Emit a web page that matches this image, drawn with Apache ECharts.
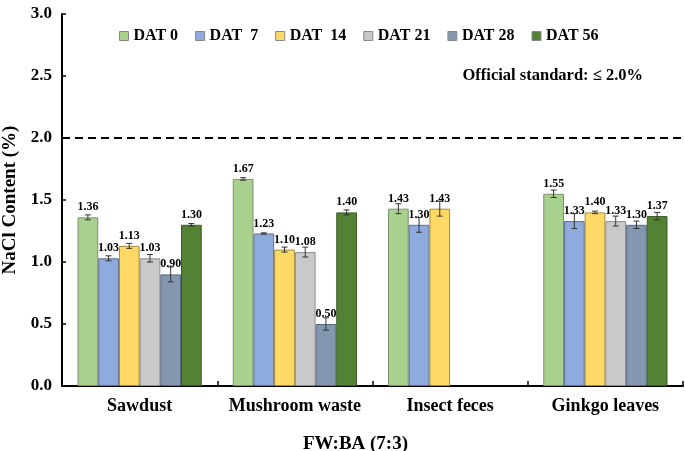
<!DOCTYPE html>
<html>
<head>
<meta charset="utf-8">
<script src="https://cdn.jsdelivr.net/npm/echarts@6/dist/echarts.min.js"></script>
<style>
  html, body { margin: 0; padding: 0; background: #fff; }
  #chart { width: 685px; height: 451px; }
</style>
</head>
<body>
<div id="chart"></div>
<script>
const categories = ['Sawdust', 'Mushroom waste', 'Insect feces', 'Ginkgo leaves']
const seriesNames = ['DAT 0', 'DAT  7', 'DAT  14', 'DAT 21', 'DAT 28', 'DAT 56']

// mean values per DAT (one entry per category, null = not measured)
const dat0 = [1.36, 1.67, 1.43, 1.55]
const dat7 = [1.03, 1.23, 1.30, 1.33]
const dat14 = [1.13, 1.10, 1.43, 1.40]
const dat21 = [1.03, 1.08, null, 1.33]
const dat28 = [0.90, 0.50, null, 1.30]
const dat56 = [1.30, 1.40, null, 1.37]

// standard deviations
const err0 = [0.02, 0.01, 0.04, 0.03]
const err7 = [0.02, 0.005, 0.06, 0.06]
const err14 = [0.02, 0.02, 0.06, 0.01]
const err21 = [0.03, 0.04, null, 0.04]
const err28 = [0.06, 0.05, null, 0.03]
const err56 = [0.01, 0.02, null, 0.03]

const yTicks = [0, 0.5, 1.0, 1.5, 2.0, 2.5, 3.0]
const standardLimit = 2.0

const values = [dat0, dat7, dat14, dat21, dat28, dat56]
const errors = [err0, err7, err14, err21, err28, err56]
const colors = ['#a9d18e', '#8faadc', '#ffd966', '#c9c9c9', '#8497b0', '#548235']
const borders = ['#7f8f70', '#5f6f8f', '#a08a40', '#8f8f8f', '#5a6a80', '#3a5a25']

const font = '"Liberation Serif", "Times New Roman", serif'
const barCategoryGap = 0.2

const barSeries = seriesNames.map((name, i) => ({
  name,
  type: 'bar',
  barGap: '0%',
  barCategoryGap: '20%',
  data: values[i],
  itemStyle: { color: colors[i], borderColor: borders[i], borderWidth: 1 },
  label: {
    show: true,
    position: 'top',
    distance: 4,
    formatter: p => p.value.toFixed(2),
    fontFamily: font,
    fontWeight: 'bold',
    fontSize: 12,
    color: '#000'
  },
  markLine: i === 0 ? {
    silent: true,
    symbol: 'none',
    label: { show: false },
    lineStyle: { color: '#000', type: [8, 5], width: 2 },
    data: [{ yAxis: standardLimit }]
  } : undefined,
  z: 2
}))

// error bars drawn on top of each bar
const errorSeries = seriesNames.map((name, i) => ({
  name,
  type: 'custom',
  z: 3,
  data: values[i].map((v, c) => v == null ? null : [c, v, errors[i][c]]).filter(d => d),
  renderItem: (params, api) => {
    const c = api.value(0)
    const v = api.value(1)
    const e = api.value(2)
    const band = api.size([1, 0])[0]
    const barW = band * (1 - barCategoryGap) / seriesNames.length
    const offset = (i - (seriesNames.length - 1) / 2) * barW
    const hi = api.coord([c, v + e])
    const lo = api.coord([c, v - e])
    const x = hi[0] + offset
    const cap = 3
    const style = { stroke: '#333', lineWidth: 1 }
    return {
      type: 'group',
      children: [
        { type: 'line', shape: { x1: x, y1: hi[1], x2: x, y2: lo[1] }, style },
        { type: 'line', shape: { x1: x - cap, y1: hi[1], x2: x + cap, y2: hi[1] }, style },
        { type: 'line', shape: { x1: x - cap, y1: lo[1], x2: x + cap, y2: lo[1] }, style }
      ]
    }
  }
}))

const chart = echarts.init(document.getElementById('chart'))
chart.setOption({
  animation: false,
  textStyle: { fontFamily: font },
  grid: { left: 62, right: 2, top: 14, bottom: 65, containLabel: false, outerBoundsMode: 'none' },
  legend: {
    data: seriesNames,
    top: 23,
    left: 114,
    icon: 'rect',
    itemWidth: 9,
    itemHeight: 9,
    itemGap: 17,
    itemStyle: { borderColor: '#888', borderWidth: 1 },
    textStyle: { fontFamily: font, fontWeight: 'bold', fontSize: 16, color: '#000' }
  },
  graphic: [{
    type: 'text',
    right: 42,
    top: 67,
    style: {
      text: 'Official standard: ≤ 2.0%',
      fontFamily: font,
      fontWeight: 'bold',
      fontSize: 16.5,
      fill: '#000'
    }
  }],
  xAxis: {
    type: 'category',
    data: categories,
    name: 'FW:BA (7:3)',
    nameLocation: 'middle',
    nameGap: 49,
    nameTextStyle: { fontFamily: font, fontWeight: 'bold', fontSize: 19, color: '#000', padding: [0, 34, 0, 0] },
    axisLine: { lineStyle: { color: '#000', width: 2 } },
    axisTick: { show: true, length: 5, inside: true, lineStyle: { color: '#000', width: 1.5 } },
    axisLabel: { interval: 0, fontFamily: font, fontWeight: 'bold', fontSize: 18, color: '#000', margin: 11 }
  },
  yAxis: {
    type: 'value',
    min: yTicks[0],
    max: yTicks[yTicks.length - 1],
    interval: 0.5,
    name: 'NaCl Content (%)',
    nameLocation: 'middle',
    nameGap: 42,
    nameTextStyle: { fontFamily: font, fontWeight: 'bold', fontSize: 19, color: '#000' },
    splitLine: { show: false },
    axisLine: { show: true, lineStyle: { color: '#000', width: 2 } },
    axisTick: { show: true, length: 4, inside: true, lineStyle: { color: '#000', width: 1.5 } },
    axisLabel: {
      fontFamily: font, fontWeight: 'bold', fontSize: 17, color: '#000', margin: 10,
      formatter: v => v.toFixed(1)
    }
  },
  series: [...barSeries, ...errorSeries]
})
</script>
</body>
</html>
